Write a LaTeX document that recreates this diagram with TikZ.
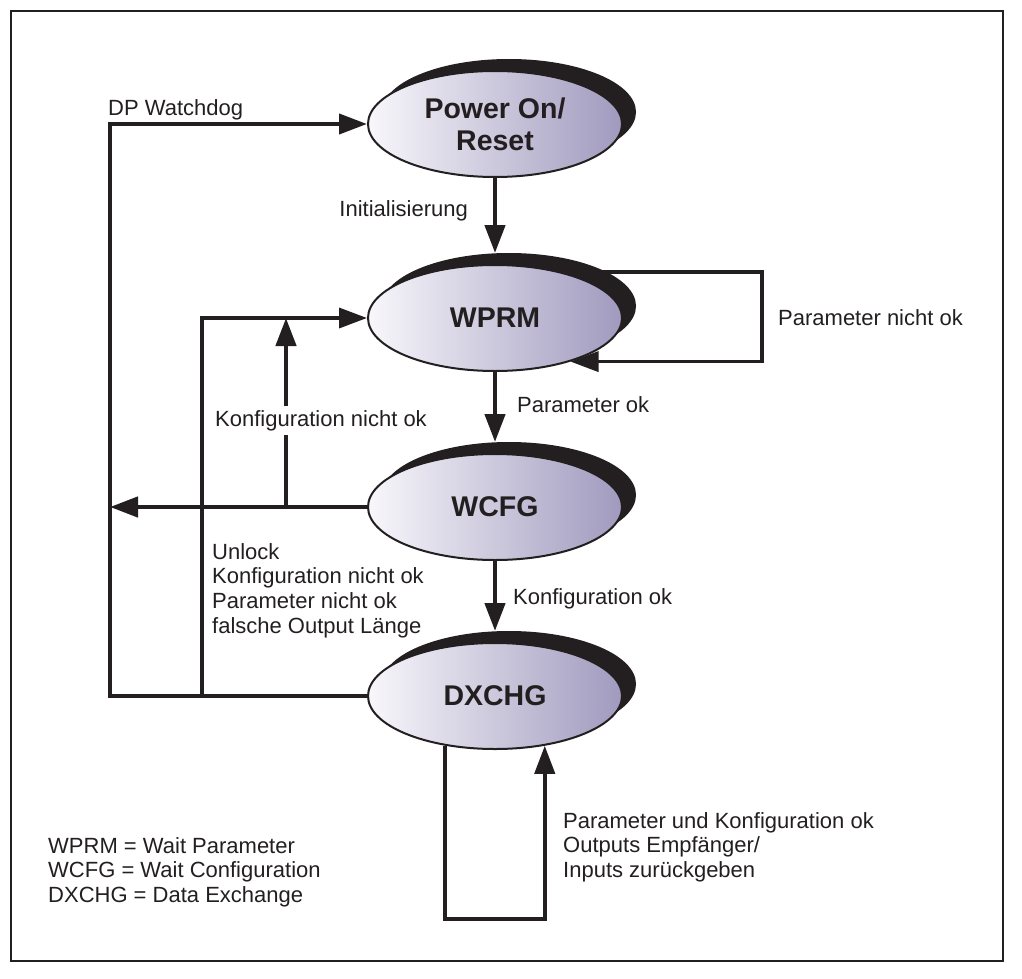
\documentclass[tikz,border=0pt]{standalone}
\usepackage{fontspec}
\setmainfont{Liberation Sans}
\usetikzlibrary{arrows.meta,shadows,shapes.geometric}
\definecolor{ink}{HTML}{231F20}
\definecolor{lav}{HTML}{A09ABE}
\definecolor{lavl}{HTML}{F8F7FB}
\begin{document}
\begin{tikzpicture}[x=1pt,y=-1pt,color=ink,
  state/.style={ellipse, draw=ink, line width=2pt, minimum width=254pt, minimum height=106pt,
    inner sep=0pt, left color=lavl, right color=lav, text=ink, align=center,
    font=\fontsize{28.5}{32}\selectfont\bfseries,
    drop shadow={shadow xshift=14pt, shadow yshift=12pt, fill=ink, opacity=1}},
  lbl/.style={font=\fontsize{22}{25}\selectfont, text=ink, inner sep=0pt},
  tip/.style={-{Triangle[length=28pt,width=20pt]}},
  thickline/.style={line width=4.5pt},
  thinline/.style={line width=3.5pt},
]
\useasboundingbox (0,0) rectangle (1022,979);
\draw[line width=2pt] (11,11) rectangle (1003,961);

% states
\node[state] (P) at (495,124) {Power On/\\Reset};
\node[state] (W) at (495,318) {WPRM};
\node[state] (C) at (495,507) {WCFG};
\node[state] (D) at (495,696) {DXCHG};

% helper coordinates
\coordinate (xL) at (110,0);
\coordinate (xM) at (202,0);
\coordinate (xK) at (286,0);
\coordinate (xR) at (762,0);
\coordinate (yB) at (0,919);
\coordinate (wl1) at ([xshift=105pt,yshift=46pt]W.center);

% main flow
\draw[thickline,tip] (P.south) -- ([yshift=11pt]W.north);
\draw[thickline,tip] (W.south) -- ([yshift=11pt]C.north);
\draw[thickline,tip] (C.south) -- ([yshift=11pt]D.north);

% watchdog loop
\draw[line width=4pt,tip] (D.west) -- (D.west -| xL) -- (P.west -| xL) -- (P.west);
% DXCHG back to WPRM
\draw[thinline,tip] (D.west -| xM) -- (W.west -| xM) -- (W.west);
% WCFG back
\draw[thickline,tip] (C.west) -- (C.west -| xL);
\draw[thickline,tip] (C.west -| xK) -- (W.west -| xK);
% WPRM self loop
\draw[thinline,tip] (wl1) -- (wl1 -| xR) -- (W.-30 -| xR) -- (W.-30);
% DXCHG self loop
\draw[line width=4pt,tip] (D.225) -- (D.225 |- yB) -- (D.315 |- yB) -- (D.315);

% labels
\node[lbl, anchor=base west] (dpw) at (108,116) {DP Watchdog};
\node[lbl, anchor=base east] (ini) at (468,216) {Initialisierung};
\node[lbl, anchor=base west] (pno) at (778,325) {Parameter nicht ok};
\node[lbl, anchor=base west] (pok) at (517,412) {Parameter ok};
\node[lbl, anchor=base west, fill=white, inner sep=4pt] (kno) at (211,426) {Konfiguration nicht ok};
\node[lbl, anchor=base west] (kok) at (513,604) {Konfiguration ok};

\node[lbl, anchor=base west] (u1) at (212,559) {Unlock};
\node[lbl, anchor=base west] (u2) at (212,583.7) {Konfiguration nicht ok};
\node[lbl, anchor=base west] (u3) at (212,608.4) {Parameter nicht ok};
\node[lbl, anchor=base west] (u4) at (212,633.1) {falsche Output Länge};

\node[lbl, anchor=base west] (r1) at (563,828) {Parameter und Konfiguration ok};
\node[lbl, anchor=base west] (r2) at (563,852.7) {Outputs Empfänger/};
\node[lbl, anchor=base west] (r3) at (563,877.4) {Inputs zurückgeben};

\node[lbl, anchor=base west] (g1) at (48,853) {WPRM = Wait Parameter};
\node[lbl, anchor=base west] (g2) at (48,877.7) {WCFG = Wait Configuration};
\node[lbl, anchor=base west] (g3) at (48,902.4) {DXCHG = Data Exchange};
\end{tikzpicture}
\end{document}
